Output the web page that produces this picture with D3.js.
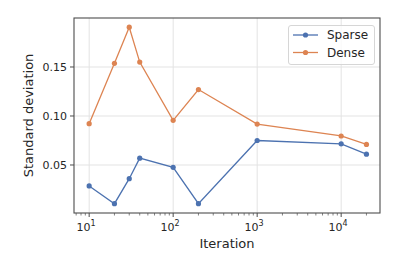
<!DOCTYPE html>
<html>
<head>
<meta charset="utf-8">
<script src="https://cdn.jsdelivr.net/npm/d3@7"></script>
<style>
  body { margin: 0; background: #fff; }
  text { font-family: "DejaVu Sans", sans-serif; fill: #262626; }
</style>
</head>
<body>
<svg id="chart" width="399" height="266"></svg>
<script>
// values
const iterations = [10, 20, 30, 40, 100, 200, 1000, 10000, 20000];
const sparse = [0.0286, 0.0105, 0.036, 0.057, 0.0476, 0.0105, 0.075, 0.0716, 0.061];
const dense = [0.0922, 0.1537, 0.1906, 0.155, 0.0956, 0.127, 0.0918, 0.0796, 0.071];
const seriesNames = ['Sparse', 'Dense'];
const seriesColors = ['#4c72b0', '#dd8452'];
const yTicks = [0.05, 0.10, 0.15];
const xTicks = [10, 100, 1000, 10000];

const margin = {top: 18, right: 19, bottom: 53, left: 74};
const width = 399, height = 266;

const svg = d3.select('#chart');

const x = d3.scaleLog()
    .domain([6.6, 29000])
    .range([margin.left, width - margin.right]);

const y = d3.scaleLinear()
    .domain([0.001, 0.2])
    .range([height - margin.bottom, margin.top]);

// grid
svg.append('g')
    .selectAll('line.gx')
    .data(xTicks)
    .join('line')
    .attr('x1', d => x(d)).attr('x2', d => x(d))
    .attr('y1', margin.top).attr('y2', height - margin.bottom)
    .attr('stroke', '#e3e3e3').attr('stroke-width', 1);

svg.append('g')
    .selectAll('line.gy')
    .data(yTicks)
    .join('line')
    .attr('x1', margin.left).attr('x2', width - margin.right)
    .attr('y1', d => y(d)).attr('y2', d => y(d))
    .attr('stroke', '#e3e3e3').attr('stroke-width', 1);

// series
const data = [sparse, dense];
const line = d3.line()
    .x((d, i) => x(iterations[i]))
    .y(d => y(d));

data.forEach((vals, k) => {
    svg.append('path')
        .datum(vals)
        .attr('d', line)
        .attr('fill', 'none')
        .attr('stroke', seriesColors[k])
        .attr('stroke-width', 1.3);
    svg.append('g')
        .selectAll('circle')
        .data(vals)
        .join('circle')
        .attr('cx', (d, i) => x(iterations[i]))
        .attr('cy', d => y(d))
        .attr('r', 2.6)
        .attr('fill', seriesColors[k]);
});

// frame
svg.append('rect')
    .attr('x', margin.left).attr('y', margin.top)
    .attr('width', width - margin.left - margin.right)
    .attr('height', height - margin.top - margin.bottom)
    .attr('fill', 'none')
    .attr('stroke', '#4d4d4d')
    .attr('stroke-width', 1.1);

// x axis ticks (major + minor)
const minor = x.ticks().filter(t => xTicks.indexOf(t) < 0);
const xAxisY = height - margin.bottom;
svg.append('g')
    .selectAll('line')
    .data(minor)
    .join('line')
    .attr('x1', d => x(d)).attr('x2', d => x(d))
    .attr('y1', xAxisY).attr('y2', xAxisY + 2.5)
    .attr('stroke', '#4d4d4d').attr('stroke-width', 0.7);

svg.append('g')
    .selectAll('line')
    .data(xTicks)
    .join('line')
    .attr('x1', d => x(d)).attr('x2', d => x(d))
    .attr('y1', xAxisY).attr('y2', xAxisY + 4)
    .attr('stroke', '#4d4d4d').attr('stroke-width', 1);

const xl = svg.append('g')
    .selectAll('text')
    .data(xTicks)
    .join('text')
    .attr('x', d => x(d) - 3)
    .attr('y', xAxisY + 18)
    .attr('text-anchor', 'middle')
    .attr('font-size', 11);
xl.append('tspan').text('10');
xl.append('tspan')
    .attr('dy', -5)
    .attr('font-size', 8)
    .text(d => Math.round(Math.log10(d)));

// y axis ticks
svg.append('g')
    .selectAll('line')
    .data(yTicks)
    .join('line')
    .attr('x1', margin.left - 4).attr('x2', margin.left)
    .attr('y1', d => y(d)).attr('y2', d => y(d))
    .attr('stroke', '#4d4d4d').attr('stroke-width', 1);

svg.append('g')
    .selectAll('text')
    .data(yTicks)
    .join('text')
    .attr('x', margin.left - 7)
    .attr('y', d => y(d) + 4)
    .attr('text-anchor', 'end')
    .attr('font-size', 11)
    .text(d => d.toFixed(2));

// axis labels
svg.append('text')
    .attr('x', (margin.left + width - margin.right) / 2)
    .attr('y', 248)
    .attr('text-anchor', 'middle')
    .attr('font-size', 13)
    .text('Iteration');

svg.append('text')
    .attr('transform', `translate(33,${(margin.top + height - margin.bottom) / 2}) rotate(-90)`)
    .attr('text-anchor', 'middle')
    .attr('font-size', 13)
    .text('Standard deviation');

// legend
const lg = svg.append('g');
lg.append('rect')
    .attr('x', 288.5).attr('y', 25.5)
    .attr('width', 86).attr('height', 39)
    .attr('rx', 2.5)
    .attr('fill', '#fff').attr('fill-opacity', 0.8)
    .attr('stroke', '#d6d6d6');

seriesNames.forEach((name, k) => {
    const yy = 35 + k * 17.5;
    lg.append('line')
        .attr('x1', 293).attr('x2', 318)
        .attr('y1', yy).attr('y2', yy)
        .attr('stroke', seriesColors[k]).attr('stroke-width', 1.3);
    lg.append('circle')
        .attr('cx', 305.5).attr('cy', yy).attr('r', 2.6)
        .attr('fill', seriesColors[k]);
    lg.append('text')
        .attr('x', 327).attr('y', yy + 4)
        .attr('font-size', 12)
        .text(name);
});
</script>
</body>
</html>
